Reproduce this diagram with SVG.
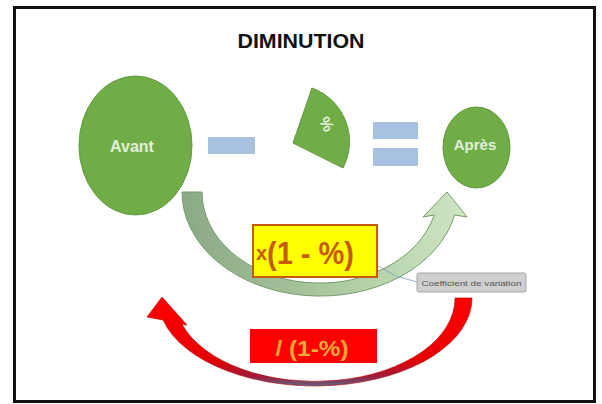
<svg xmlns="http://www.w3.org/2000/svg" width="602" height="404" viewBox="0 0 602 404">
<style>
.frame{fill:#fff;stroke:#111;stroke-width:3}
.title{font-family:"Liberation Sans",Arial,sans-serif;font-weight:bold;font-size:20px;fill:#111}
.green{fill:#70ad47;stroke:#5f9a3c;stroke-width:1}
.lbl{font-family:"Liberation Sans",Arial,sans-serif;font-weight:bold;fill:#e2efda;text-anchor:middle}
.op{fill:#a9c1e1}
.formula{font-family:"Liberation Sans",Arial,sans-serif;font-weight:bold}
.note{font-family:"Liberation Sans",Arial,sans-serif;font-size:8px;fill:#555;text-anchor:middle}
</style>
<defs>
<linearGradient id="gArrow" gradientUnits="userSpaceOnUse" x1="182" y1="0" x2="467" y2="0">
<stop offset="0" stop-color="#8aa985"/>
<stop offset="0.5" stop-color="#a9c89f"/>
<stop offset="1" stop-color="#cfe7c3"/>
</linearGradient>
<linearGradient id="rArrow" gradientUnits="userSpaceOnUse" x1="0" y1="296" x2="0" y2="387">
<stop offset="0" stop-color="#ff0000"/>
<stop offset="0.7" stop-color="#e60000"/>
<stop offset="0.88" stop-color="#a01a3a"/>
<stop offset="1" stop-color="#566c8c"/>
</linearGradient>
</defs>
<rect class="frame" x="14.5" y="7.5" width="580" height="394"/>
<g id="title"><text class="title" x="301" y="48" text-anchor="middle" textLength="127" lengthAdjust="spacingAndGlyphs">DIMINUTION</text></g>
<g id="connectors">
<path id="arrow-forward" d="M182,192 A138,104 0 0 0 454.6,215 L467,217 L447,192 L423,217 L434.2,215 A118,91 0 0 1 202,192 Z" fill="url(#gArrow)" stroke="#769c6c" stroke-width="1"/>
<path id="arrow-back" d="M472,298 A157,88 0 0 1 163,320 L147,317 L162,297 L187,325 L182,324.3 A140,83 0 0 0 455,298 Z" fill="url(#rArrow)" stroke="#b00000" stroke-width="0.6"/>
<polyline id="callout-line" points="378,266 396,276 417,282" fill="none" stroke="#7d9bc9" stroke-width="0.8"/>
</g>
<g id="avant">
<ellipse class="green" cx="135.5" cy="145.5" rx="56.5" ry="69.5"/>
<text class="lbl" x="132" y="152" font-size="16">Avant</text>
</g>
<g id="minus"><rect class="op" x="208" y="137" width="47" height="17"/></g>
<g id="percent">
<path class="green" d="M293,143 L312,88 A57,57 0 0 1 343,168 Z"/>
<text class="lbl" x="327" y="130" font-size="16" transform="rotate(60 327 124)">%</text>
</g>
<g id="equals">
<rect class="op" x="373" y="122" width="45" height="17"/>
<rect class="op" x="373" y="148" width="45" height="18"/>
</g>
<g id="apres">
<ellipse class="green" cx="476.5" cy="147.5" rx="33.5" ry="40.5"/>
<text class="lbl" x="475" y="150" font-size="15">Après</text>
</g>
<g id="coef-multiply">
<rect x="253" y="225" width="124" height="52" fill="#ffff00" stroke="#c55a11" stroke-width="2"/>
<text class="formula" fill="#c65a11"><tspan x="256" y="260" font-size="20">x</tspan><tspan x="267" y="264" font-size="31" textLength="87" lengthAdjust="spacingAndGlyphs">(1 - %)</tspan></text>
</g>
<g id="coef-label">
<rect x="417" y="273" width="109" height="19" rx="2" fill="#cfcfcf" stroke="#a6a6a6" stroke-width="1"/>
<text class="note" x="471.5" y="285.5" textLength="100" lengthAdjust="spacingAndGlyphs">Coefficient de variation</text>
</g>
<g id="coef-divide">
<rect x="250" y="329" width="127" height="34" fill="#ff0000"/>
<text class="formula" x="312" y="356" font-size="22" fill="#f2a93b" text-anchor="middle" textLength="73" lengthAdjust="spacingAndGlyphs">/ (1-%)</text>
</g>
</svg>
